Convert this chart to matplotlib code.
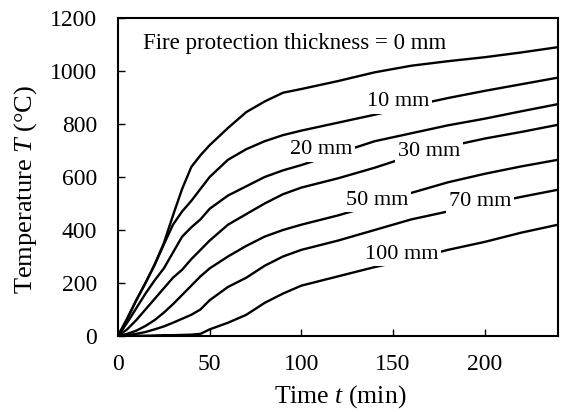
import matplotlib
matplotlib.use("Agg")
import matplotlib.pyplot as plt
import numpy as np

plt.rcParams["font.family"] = ["Liberation Serif", "DejaVu Serif"]
plt.rcParams["mathtext.fontset"] = "custom"
plt.rcParams["mathtext.rm"] = "Liberation Serif"
plt.rcParams["mathtext.it"] = "Liberation Serif:italic"

# Time (min)
t = [0, 5, 10, 15, 20, 25, 30, 35, 40, 45, 50, 60, 70, 80, 90, 100,
     120, 140, 160, 180, 200, 220, 240]

# Steel temperature (°C) for each fire protection thickness
T_0mm = [0, 65, 135, 200, 270, 350, 455, 555, 638, 682, 720, 785, 845, 885,
         918, 932, 962, 995, 1020, 1037, 1052, 1070, 1090]
T_10mm = [0, 65, 135, 200, 268, 345, 420, 470, 510, 555, 600, 665, 705, 735,
          758, 775, 805, 835, 868, 898, 925, 950, 975]
T_20mm = [0, 50, 105, 160, 210, 255, 315, 375, 410, 440, 480, 530, 565, 600,
          625, 645, 690, 735, 765, 795, 820, 848, 875]
T_30mm = [0, 25, 60, 100, 140, 180, 220, 250, 290, 325, 360, 420, 460, 500,
          535, 560, 595, 635, 680, 715, 745, 770, 797]
T_50mm = [0, 8, 20, 38, 60, 88, 120, 155, 190, 225, 255, 300, 340, 375,
          400, 420, 455, 495, 540, 580, 612, 640, 665]
T_70mm = [0, 3, 8, 15, 25, 36, 50, 65, 80, 100, 135, 185, 220, 265,
          300, 325, 360, 400, 440, 470, 497, 525, 552]
T_100mm = [0, 0, 1, 1, 2, 3, 3, 4, 5, 8, 25, 50, 80, 125,
           160, 190, 225, 260, 290, 325, 355, 390, 420]

curves = [T_0mm, T_10mm, T_20mm, T_30mm, T_50mm, T_70mm, T_100mm]

# Curve labels: (text, time, temperature)
labels = [
    ("10 mm", 153, 884),
    ("20 mm", 110.6, 702),
    ("30 mm", 169.6, 698),
    ("50 mm", 141.6, 513),
    ("70 mm", 197.6, 506),
    ("100 mm", 154.9, 309),
]

fig = plt.figure(figsize=(5.65, 4.12), dpi=100)
ax = fig.add_axes([0.2088, 0.1845, 0.7788, 0.7718])

for T in curves:
    ax.plot(t, T, color="black", lw=1.7, solid_joinstyle="round")

for text, x, y in labels:
    ax.text(x, y, text, ha="center", va="center", fontsize=16,
            bbox=dict(facecolor="white", edgecolor="none", pad=2), zorder=5)

ax.text(13.6, 1103, "Fire protection thickness = 0 mm", ha="left",
        va="center", fontsize=16.5)

ax.set_xlim(0, 240)
ax.set_ylim(0, 1200)
ax.set_xticks([0, 50, 100, 150, 200])
ax.set_yticks([0, 200, 400, 600, 800, 1000, 1200])
ax.tick_params(direction="in", length=5, width=1, labelsize=17)
ax.tick_params(axis="y", pad=15)
ax.tick_params(axis="x", pad=13)
for s in ax.spines.values():
    s.set_linewidth(1.5)

ax.set_xlabel("Time $t$ (min)", fontsize=18.5)
ax.set_ylabel("Temperature $T$ (°C)", fontsize=19)
ax.xaxis.set_label_coords(0.505, -0.148)
ax.yaxis.set_label_coords(-0.18, 0.46)

fig.savefig("out.png", dpi=100)
